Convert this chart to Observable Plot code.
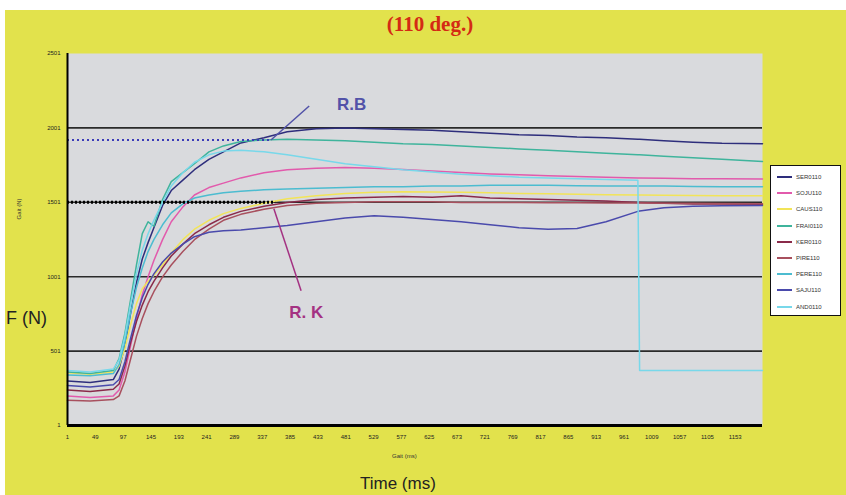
<!DOCTYPE html>
<html>
<head>
<meta charset="utf-8">
<script src="https://cdn.jsdelivr.net/npm/d3@7"></script>
<script src="https://cdn.jsdelivr.net/npm/@observablehq/plot@0.6"></script>
<style>
  html, body { margin: 0; padding: 0; background: #ffffff; }
  #wrap { position: relative; width: 846px; height: 495px; overflow: hidden; background: #ffffff; }
  #bg { position: absolute; left: 5px; top: 10px; right: 0; bottom: 0; background: #e2e24c; }
  #chart { position: absolute; left: 0; top: 0; }
  .title { position: absolute; left: 330px; width: 200px; top: 12px; text-align: center;
           font-family: "Liberation Serif", "DejaVu Serif", serif; font-weight: bold; font-size: 21px; color: #d42a14; }
  .fn { position: absolute; left: 6px; top: 308px; font-family: "Liberation Sans", Arial, sans-serif; font-size: 18px; color: #222; }
  .tms { position: absolute; left: 360px; top: 474px; font-family: "Liberation Sans", Arial, sans-serif; font-size: 17px; color: #222; }
  .ysmall { position: absolute; left: 8px; top: 206px; transform: rotate(-90deg); transform-origin: center;
            font-family: "Liberation Sans", Arial, sans-serif; font-size: 6px; color: #333; }
  .xsmall { position: absolute; left: 392px; top: 453px; font-family: "Liberation Sans", Arial, sans-serif; font-size: 6px; color: #333; }
  #legend { position: absolute; left: 770px; top: 165px; width: 71px; height: 151px; background: #ffffff;
            border: 1.5px solid #111; box-sizing: border-box; padding-top: 3px; }
  .li { height: 16.2px; display: flex; align-items: center; font-family: "Liberation Sans", Arial, sans-serif; font-size: 6px; color: #333; }
  .sw { width: 15px; height: 2px; margin-left: 6px; margin-right: 4px; }
</style>
</head>
<body>
<div id="wrap">
  <div id="bg"></div>
  <div id="chart"></div>
  <div class="title">(110 deg.)</div>
  <div class="fn">F (N)</div>
  <div class="tms">Time (ms)</div>
  <div class="ysmall">Gait (N)</div>
  <div class="xsmall">Gait (ms)</div>
  <div id="legend"></div>
</div>
<script>
// ---- data ----
const frames = [1, 40, 80, 90, 100, 110, 120, 130, 140, 150, 165, 180, 200, 220, 245, 270, 300, 340, 380, 430, 480, 530, 580, 630, 680, 730, 780, 830, 880, 930, 985, 988, 1030, 1080, 1130, 1200];

const seriesNames = ["SER0110", "SOJU110", "CAUS110", "FRAI0110", "KER0110", "PIRE110", "PERE110", "SAJU110", "AND0110"];
const seriesColors = ["#2e2e7c", "#e25aac", "#f2e458", "#3fb49c", "#8a2a4a", "#a8505e", "#4cbcd0", "#4a4aac", "#78d8ea"];

const ser  = [300, 290, 310, 380, 540, 760, 960, 1120, 1230, 1330, 1480, 1580, 1650, 1720, 1790, 1840, 1900, 1935, 1975, 1995, 2000, 1995, 1990, 1985, 1975, 1965, 1955, 1950, 1940, 1935, 1925, 1925, 1915, 1905, 1898, 1895];
const soju = [200, 190, 200, 240, 360, 540, 720, 880, 1000, 1110, 1250, 1370, 1470, 1550, 1600, 1630, 1665, 1700, 1720, 1730, 1735, 1730, 1722, 1712, 1702, 1692, 1686, 1680, 1675, 1670, 1665, 1665, 1662, 1660, 1660, 1658];
const caus = [355, 345, 360, 400, 520, 680, 820, 920, 970, 1010, 1080, 1160, 1250, 1320, 1380, 1425, 1460, 1495, 1525, 1545, 1560, 1568, 1572, 1570, 1568, 1565, 1560, 1558, 1555, 1552, 1550, 1550, 1548, 1546, 1545, 1545];
const frai = [360, 350, 370, 450, 620, 850, 1080, 1290, 1370, 1340, 1520, 1640, 1700, 1760, 1840, 1880, 1910, 1920, 1925, 1920, 1915, 1905, 1895, 1890, 1880, 1870, 1860, 1850, 1840, 1830, 1820, 1820, 1810, 1800, 1790, 1775];
const ker  = [240, 230, 245, 280, 400, 560, 700, 810, 900, 970, 1060, 1140, 1220, 1290, 1350, 1400, 1440, 1475, 1500, 1520, 1530, 1535, 1540, 1535, 1545, 1530, 1525, 1520, 1515, 1510, 1500, 1500, 1495, 1490, 1490, 1488];
const pire = [170, 165, 175, 200, 300, 450, 600, 720, 820, 900, 1000, 1080, 1170, 1250, 1320, 1380, 1420, 1455, 1480, 1495, 1500, 1505, 1505, 1505, 1500, 1500, 1500, 1498, 1498, 1497, 1497, 1497, 1495, 1495, 1493, 1492];
const pere = [340, 335, 350, 410, 560, 760, 930, 1060, 1170, 1250, 1350, 1430, 1490, 1530, 1550, 1565, 1575, 1585, 1590, 1595, 1600, 1605, 1605, 1610, 1610, 1615, 1615, 1615, 1612, 1610, 1610, 1610, 1610, 1608, 1605, 1605];
const saju = [270, 260, 275, 310, 430, 590, 740, 860, 950, 1020, 1100, 1160, 1220, 1270, 1300, 1310, 1315, 1330, 1345, 1370, 1395, 1410, 1400, 1385, 1370, 1350, 1330, 1320, 1325, 1370, 1440, 1442, 1465, 1475, 1478, 1480];
const andr = [370, 360, 380, 440, 600, 820, 1020, 1180, 1290, 1380, 1500, 1610, 1700, 1770, 1820, 1845, 1850, 1840, 1820, 1790, 1760, 1740, 1720, 1705, 1690, 1680, 1670, 1665, 1660, 1655, 1650, 370, 370, 370, 370, 370];

const xTicks = [1, 49, 97, 145, 193, 241, 289, 337, 385, 433, 481, 529, 577, 625, 673, 721, 769, 817, 865, 913, 961, 1009, 1057, 1105, 1153];
const yTicks = [1, 501, 1001, 1501, 2001, 2501];
const gridValues = [501, 1001, 1501, 2001];

// reference dotted lines (value, end frame)
const refLines = [
  {name: "R.B", value: 1920, x2: 352},
  {name: "R.K", value: 1501, x2: 360}
];
// annotation labels and pointers
const labels = [
  {text: "R.B", x: 491, y: 2161, x1: 418, y1: 2148, x2: 352, y2: 1920, color: "#5252a8"},
  {text: "R. K", x: 413, y: 759, x1: 404, y1: 907, x2: 357, y2: 1457, color: "#a43282"}
];

// ---- tidy table ----
const allSeries = [ser, soju, caus, frai, ker, pire, pere, saju, andr];
const tidy = [];
allSeries.forEach((vals, i) => {
  vals.forEach((v, j) => tidy.push({name: seriesNames[i], frame: frames[j], value: v}));
});

const chart = Plot.plot({
  width: 846,
  height: 495,
  marginLeft: 67,
  marginRight: 84,
  marginTop: 53,
  marginBottom: 70,
  style: {background: "transparent", overflow: "visible", fontFamily: "Liberation Sans, Arial, sans-serif"},
  x: {domain: [1, 1200]},
  y: {domain: [1, 2501]},
  color: {domain: seriesNames, range: seriesColors},
  marks: [
    Plot.frame({fill: "#d9dadd", stroke: null}),
    Plot.ruleY(gridValues, {stroke: "#2a2a2a", strokeWidth: 1.6}),
    Plot.line(tidy, {x: "frame", y: "value", z: "name", stroke: "name", strokeWidth: 1.5, curve: "linear"}),
    Plot.ruleY(refLines.filter(d => d.name === "R.B"), {y: "value", x1: 1, x2: "x2", stroke: "#3a3ab8", strokeWidth: 2, strokeDasharray: "2,3"}),
    Plot.ruleY(refLines.filter(d => d.name === "R.K"), {y: "value", x1: 1, x2: "x2", stroke: "#000", strokeWidth: 3, strokeDasharray: "2,2"}),
    Plot.link(labels, {x1: "x1", y1: "y1", x2: "x2", y2: "y2", stroke: "color", strokeWidth: 1.5}),
    Plot.text(labels, {x: "x", y: "y", text: "text", fill: "color", fontSize: 17, fontWeight: "bold"}),
    Plot.ruleY([1], {stroke: "#000", strokeWidth: 3}),
    Plot.ruleX([1], {stroke: "#000", strokeWidth: 2}),
    Plot.axisX({ticks: xTicks, tickSize: 0, tickPadding: 9, fontSize: 6, fill: "#222", label: null, tickFormat: d => String(d)}),
    Plot.axisY({ticks: yTicks, tickSize: 0, tickPadding: 7, fontSize: 6, fill: "#222", label: null, tickFormat: d => String(d)})
  ]
});
document.getElementById("chart").appendChild(chart);

// ---- legend ----
const leg = document.getElementById("legend");
seriesNames.forEach((n, i) => {
  const row = document.createElement("div");
  row.className = "li";
  const sw = document.createElement("div");
  sw.className = "sw";
  sw.style.background = seriesColors[i];
  const t = document.createElement("span");
  t.textContent = n;
  row.appendChild(sw);
  row.appendChild(t);
  leg.appendChild(row);
});
</script>
</body>
</html>
